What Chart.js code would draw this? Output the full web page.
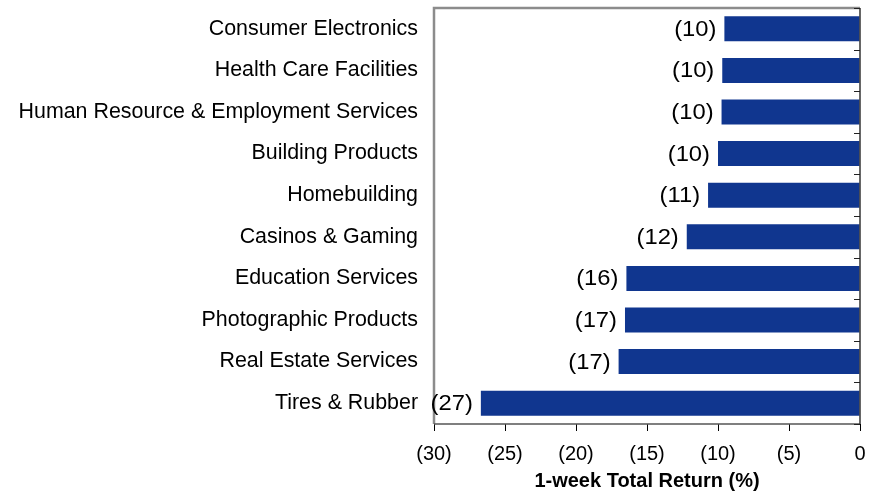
<!DOCTYPE html>
<html>
<head>
<meta charset="utf-8">
<script src="https://cdn.jsdelivr.net/npm/chart.js@4/dist/chart.umd.min.js"></script>
<style>
  html, body { margin: 0; padding: 0; background: #fff; }
  #wrap { width: 880px; height: 492px; }
</style>
</head>
<body>
<div id="wrap"><canvas id="chart" width="880" height="492"></canvas></div>
<script>
const industries = [
  'Consumer Electronics',
  'Health Care Facilities',
  'Human Resource & Employment Services',
  'Building Products',
  'Homebuilding',
  'Casinos & Gaming',
  'Education Services',
  'Photographic Products',
  'Real Estate Services',
  'Tires & Rubber'
];
const weeklyReturn = [-9.55, -9.7, -9.75, -10.0, -10.7, -12.2, -16.45, -16.55, -17.0, -26.7];
const axisMin = -30;
const axisMax = 0;
const axisStep = 5;

const FONT = "'Liberation Sans', Arial, sans-serif";
const BAR_BLUE = '#10368f';

// negatives shown in accounting style, e.g. (10)
const paren = v => (v === 0 ? '0' : '(' + Math.abs(v) + ')');

// frame around the plot plus inward ticks on the right-hand axis
const framePlugin = {
  id: 'frame',
  afterDatasetsDraw(chart) {
    const { ctx, chartArea: a } = chart;
    ctx.save();
    ctx.lineCap = 'butt';
    // top and left: grey
    ctx.strokeStyle = '#8c8c8c';
    ctx.lineWidth = 2.5;
    ctx.beginPath();
    ctx.moveTo(a.left, a.bottom);
    ctx.lineTo(a.left, a.top);
    ctx.lineTo(a.right, a.top);
    ctx.stroke();
    // bottom
    ctx.strokeStyle = '#555';
    ctx.lineWidth = 1.5;
    ctx.beginPath();
    ctx.moveTo(a.left, a.bottom);
    ctx.lineTo(a.right, a.bottom);
    ctx.stroke();
    // right axis line
    ctx.strokeStyle = '#333';
    ctx.lineWidth = 1.5;
    ctx.beginPath();
    ctx.moveTo(a.right, a.top);
    ctx.lineTo(a.right, a.bottom);
    ctx.stroke();
    // category boundary ticks pointing into the plot
    const n = industries.length;
    const step = (a.bottom - a.top) / n;
    ctx.lineWidth = 1;
    ctx.strokeStyle = '#222';
    for (let i = 0; i <= n; i++) {
      const py = Math.round(a.top + i * step) + 0.5;
      ctx.beginPath();
      ctx.moveTo(a.right - 6, py);
      ctx.lineTo(a.right, py);
      ctx.stroke();
    }
    ctx.restore();
  },
  afterDraw(chart) {
    // value labels just left of each bar end
    const { ctx } = chart;
    const meta = chart.getDatasetMeta(0);
    const sx = 1.08;
    ctx.save();
    ctx.font = '22px ' + FONT;
    ctx.fillStyle = '#000';
    ctx.textAlign = 'right';
    ctx.textBaseline = 'middle';
    meta.data.forEach((bar, i) => {
      const v = weeklyReturn[i];
      ctx.save();
      ctx.translate(bar.x - 8, bar.y + 1);
      ctx.scale(sx, 1);
      ctx.fillText(paren(Math.round(Math.abs(v))), 0, 0);
      ctx.restore();
    });
    ctx.restore();
  }
};

new Chart(document.getElementById('chart'), {
  type: 'bar',
  data: {
    labels: industries,
    datasets: [{
      data: weeklyReturn,
      backgroundColor: BAR_BLUE,
      borderWidth: 0,
      barPercentage: 0.6,
      categoryPercentage: 1.0
    }]
  },
  options: {
    indexAxis: 'y',
    responsive: false,
    animation: false,
    layout: { padding: { top: 8, right: 20, left: 0, bottom: 0 } },
    plugins: {
      legend: { display: false },
      tooltip: { enabled: false }
    },
    scales: {
      x: {
        min: axisMin,
        max: axisMax,
        ticks: {
          stepSize: axisStep,
          color: '#000',
          padding: 11,
          font: { family: FONT, size: 20 },
          maxRotation: 0,
          callback: v => paren(v)
        },
        grid: {
          display: true,
          drawOnChartArea: false,
          drawTicks: true,
          tickLength: 7,
          color: '#000',
          lineWidth: 1
        },
        border: { display: false },
        title: {
          display: true,
          text: '1-week Total Return (%)',
          color: '#000',
          font: { family: FONT, size: 20, weight: 'bold', lineHeight: 1.1 },
          padding: { top: 3, bottom: 0 }
        },
        afterFit(scale) { scale.height = 68; }
      },
      y: {
        position: 'left',
        ticks: {
          color: '#000',
          padding: 16,
          font: { family: FONT, size: 21.4 }
        },
        grid: { display: false, drawTicks: false },
        border: { display: false },
        afterFit(scale) {
          scale.width = 434;
          scale.paddingTop = 0;
          scale.paddingBottom = 0;
        }
      }
    }
  },
  plugins: [framePlugin]
});
</script>
</body>
</html>
